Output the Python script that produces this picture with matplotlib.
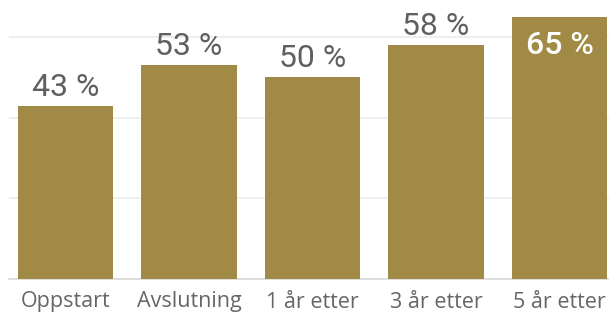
import matplotlib.pyplot as plt

categories = ["Oppstart", "Avslutning", "1 år etter", "3 år etter", "5 år etter"]
values = [43, 53, 50, 58, 65]
labels = ["43 %", "53 %", "50 %", "58 %", "65 %"]

bar_color = "#A08A45"
text_gray = "#5f5f5f"

fig = plt.figure(figsize=(6.09, 3.18), dpi=100)
ax = fig.add_axes([9 / 609, 39 / 318, 600 / 609, 279 / 318])

x = range(len(categories))
ax.bar(x, values, width=0.77, color=bar_color, zorder=3)

ax.set_xlim(-0.457, 4.40)
ax.set_ylim(0, 69.2)
ax.set_yticks([0, 20, 40, 60])
ax.yaxis.grid(True, color="#ebebeb", linewidth=1.2, zorder=0)
ax.tick_params(axis="y", left=False, labelleft=False)
ax.tick_params(axis="x", length=0, pad=9, labelsize=15.5, labelcolor="#666666")
ax.set_xticks(list(x))
ax.set_xticklabels(categories, fontfamily="Open Sans")

for side in ["top", "right", "left"]:
    ax.spines[side].set_visible(False)
ax.spines["bottom"].set_color("#d9d9d9")
ax.spines["bottom"].set_linewidth(1.2)

# value labels: above bars, last one inside in white
for i, (v, lab) in enumerate(zip(values, labels)):
    if i == len(values) - 1:
        ax.text(i, v - 3.6, lab, ha="center", va="top", fontsize=23,
                color="white", fontweight="medium",
                fontfamily="Roboto", zorder=4)
    else:
        ax.text(i, v + 1.0, lab, ha="center", va="bottom", fontsize=23,
                color=text_gray, fontfamily="Roboto", zorder=4)

fig.savefig("out.png", dpi=100)
